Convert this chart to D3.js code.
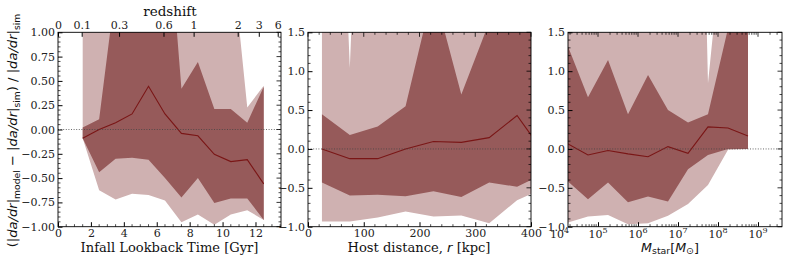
<!DOCTYPE html>
<html><head><meta charset="utf-8">
<script src="https://cdn.jsdelivr.net/npm/d3@7"></script>
<style>
body{margin:0;background:#fff;}
svg{display:block;}
.tick text{font-family:"DejaVu Serif",serif;}
</style></head>
<body><svg id="c" width="789" height="263"></svg>
<script>
// ---------- Data ----------
// Panel 1: infall lookback time [Gyr]
const lookbackX      = [1.5, 2.5, 3.5, 4.5, 5.5, 6.5, 7.5, 8.5, 9.5, 10.5, 11.5, 12.5];
const lookMedian     = [-0.09, 0.00, 0.07, 0.16, 0.445, 0.16, -0.04, -0.065, -0.255, -0.33, -0.31, -0.56];
const lookDarkHi     = [0.02, 0.105, 1.45, 1.6, 2.0, 2.55, 0.42, 0.695, 0.21, 0.21, 0.07, 0.44];
const lookDarkLo     = [-0.09, -0.44, -0.30, -0.29, -0.31, -0.50, -0.70, -0.50, -0.755, -0.71, -0.71, -0.93];
const lookLightHi    = [3.0, 3.0, 3.0, 3.0, 3.0, 3.0, 3.0, 3.0, 3.0, 1.9, 0.226, 0.45];
const lookLightLo    = [-0.09, -0.625, -0.72, -0.66, -0.675, -0.73, -0.955, -0.875, -0.98, -0.875, -0.83, -0.93];
// top axis: redshift labels and their lookback times [Gyr]
const redshiftLabels   = ["0", "0.1", "0.3", "0.6", "1", "2", "3", "6"];
const redshiftLookback = [0, 1.44, 3.71, 6.41, 8.24, 10.92, 12.2, 13.35];

// Panel 2: host distance r [kpc]
const distX          = [25, 75, 125, 175, 225, 275, 325, 375, 425];
const distMedian     = [0.0, -0.125, -0.125, 0.0, 0.095, 0.085, 0.145, 0.43, -0.07];
const distDarkHi     = [0.445, 0.18, 0.29, 0.55, 2.05, 0.70, 1.63, 2.5, 2.5];
const distDarkLo     = [-0.433, -0.60, -0.59, -0.61, -0.545, -0.617, -0.433, -0.485, -0.315];
const distLightHi    = [10, 1.04, 10, 3.0, 3.0, 3.0, 3.0, 3.0, 3.0];
const distLightLo    = [-0.934, -0.934, -0.883, -0.806, -0.87, -0.857, -0.955, -0.66, -0.50];

// Panel 3: stellar mass [Msun]
const massX          = [1.78e4, 5.62e4, 1.78e5, 5.62e5, 1.78e6, 5.62e6, 1.78e7, 5.62e7, 1.78e8, 5.62e8];
const massMedian     = [0.064, -0.077, -0.02, -0.064, -0.10, 0.03, -0.056, 0.283, 0.27, 0.167];
const massDarkHi     = [1.316, 0.664, 1.144, 0.446, 0.95, 0.50, 0.34, 0.446, 1.55, 2.5];
const massDarkLo     = [-0.42, -0.647, -0.43, -0.686, -0.613, -0.677, -0.26, -0.077, 0.0, 0.0];
const massLightHi    = [3.0, 3.0, 3.0, 3.0, 3.0, 3.0, 12, 0.845, 3.4, 3.0];
const massLightLo    = [-0.947, -0.87, -0.849, -0.969, -0.956, -0.86, -0.707, -0.463, -0.01, 0.0];

const yTicks1 = [-1.0, -0.75, -0.5, -0.25, 0.0, 0.25, 0.5, 0.75, 1.0];
const yTicks23 = [-1.0, -0.5, 0.0, 0.5, 1.0, 1.5];
const xTicks1 = [0, 2, 4, 6, 8, 10, 12];
const xTicks2 = [0, 100, 200, 300, 400];
const xTicks3 = [1e4, 1e5, 1e6, 1e7, 1e8, 1e9];

// ---------- Style ----------
const DARK = "#965a5a", LIGHT = "#cfb1b1", LINE = "#7a1616";
const TOP = 32.3, BOT = 226.7;
const svg = d3.select("#c");
const defs = svg.append("defs");

// scale a text's font size so that its width matches the target width
function fitWidth(sel, target) {
  const node = sel.node();
  const w = node.getBBox().width;
  if (!w) return;
  const k = target / w;
  sel.attr("font-size", (+sel.attr("font-size")) * k);
  sel.selectAll("tspan").each(function () {
    const t = d3.select(this);
    if (t.attr("font-size")) t.attr("font-size", (+t.attr("font-size")) * k);
    if (t.attr("dy")) t.attr("dy", (+t.attr("dy")) * k);
  });
}

function panel(id, x, y, X, med, dHi, dLo, lHi, lLo) {
  const [x0, x1] = x.range();
  defs.append("clipPath").attr("id", id).append("rect")
    .attr("x", x0).attr("y", TOP).attr("width", x1 - x0).attr("height", BOT - TOP);
  const g = svg.append("g").attr("clip-path", `url(#${id})`);
  const idx = d3.range(X.length);
  const area = (hi, lo) => d3.area().x(i => x(X[i])).y0(i => y(lo[i])).y1(i => y(hi[i]));
  g.append("path").datum(idx).attr("d", area(lHi, lLo)).attr("fill", LIGHT);
  g.append("path").datum(idx).attr("d", area(dHi, dLo)).attr("fill", DARK);
  g.append("path").datum(idx).attr("d", d3.line().x(i => x(X[i])).y(i => y(med[i])))
    .attr("fill", "none").attr("stroke", LINE).attr("stroke-width", 1.1);
  g.append("line").attr("x1", x0).attr("x2", x1).attr("y1", y(0)).attr("y2", y(0))
    .attr("stroke", "#444").attr("stroke-width", 0.8).attr("stroke-dasharray", "1,1.6");
}

function frame(x, y, xt, xMinor, yt, yMinor, yFmt, xFmt, topTicks) {
  const [x0, x1] = x.range();
  const g = svg.append("g");
  const bot = g.append("g").attr("transform", `translate(0,${BOT})`)
    .call(d3.axisBottom(x).tickValues(xt).tickFormat(xFmt).tickSizeInner(-4.5).tickSizeOuter(0).tickPadding(2.5));
  bot.selectAll("text").attr("font-size", 11).attr("fill", "#222");
  bot.append("g").selectAll("line").data(xMinor).join("line")
    .attr("x1", d => x(d)).attr("x2", d => x(d)).attr("y1", 0).attr("y2", -2.5).attr("stroke", "#000").attr("stroke-width", 0.7);
  if (!topTicks) {
    g.append("g").selectAll("line").data(xt.filter(d => x(d) >= x0 - 0.5 && x(d) <= x1 + 0.5)).join("line")
      .attr("x1", d => x(d)).attr("x2", d => x(d)).attr("y1", TOP).attr("y2", TOP + 4.5).attr("stroke", "#000").attr("stroke-width", 0.8);
    g.append("g").selectAll("line").data(xMinor).join("line")
      .attr("x1", d => x(d)).attr("x2", d => x(d)).attr("y1", TOP).attr("y2", TOP + 2.5).attr("stroke", "#000").attr("stroke-width", 0.7);
  }
  const left = g.append("g").attr("transform", `translate(${x0},0)`)
    .call(d3.axisLeft(y).tickValues(yt).tickFormat(yFmt).tickSizeInner(-4.5).tickSizeOuter(0).tickPadding(3));
  left.selectAll("text").attr("font-size", 11).attr("fill", "#222");
  left.append("g").selectAll("line").data(yMinor).join("line")
    .attr("x1", 0).attr("x2", 2.5).attr("y1", d => y(d)).attr("y2", d => y(d)).attr("stroke", "#000").attr("stroke-width", 0.7);
  g.append("g").selectAll("line").data(yt).join("line")
    .attr("x1", x1).attr("x2", x1 - 4.5).attr("y1", d => y(d)).attr("y2", d => y(d)).attr("stroke", "#000").attr("stroke-width", 0.8);
  g.append("g").selectAll("line").data(yMinor).join("line")
    .attr("x1", x1).attr("x2", x1 - 2.5).attr("y1", d => y(d)).attr("y2", d => y(d)).attr("stroke", "#000").attr("stroke-width", 0.7);
  g.selectAll(".domain").remove();
  g.append("rect").attr("x", x0).attr("y", TOP).attr("width", x1 - x0).attr("height", BOT - TOP)
    .attr("fill", "none").attr("stroke", "#000").attr("stroke-width", 0.9);
  return g;
}

// ---------- Panel 1 ----------
const x1s = d3.scaleLinear().domain([0, 13.55]).range([58, 281]);
const y1s = d3.scaleLinear().domain([-1, 1]).range([BOT, TOP]);
panel("cp1", x1s, y1s, lookbackX, lookMedian, lookDarkHi, lookDarkLo, lookLightHi, lookLightLo);
const minor1x = d3.range(0, 13.55, 0.5).filter(v => v % 2 !== 0);
const minor1y = d3.range(-1, 1.001, 0.05).map(v => +v.toFixed(2)).filter(v => Math.abs((v * 4) - Math.round(v * 4)) > 1e-6);
frame(x1s, y1s, xTicks1, minor1x, yTicks1, minor1y, d3.format(".2f"), d3.format("d"), true);
const topAx = svg.append("g").attr("transform", `translate(0,${TOP})`)
  .call(d3.axisTop(x1s).tickValues(redshiftLookback).tickFormat((d, i) => redshiftLabels[i]).tickSizeInner(-4.5).tickSizeOuter(0).tickPadding(3));
topAx.select(".domain").remove();
topAx.selectAll("text").attr("font-size", 11).attr("fill", "#222");
const rs = svg.append("text").attr("x", 170).attr("y", 16).attr("text-anchor", "middle")
  .attr("font-family", "DejaVu Serif").attr("font-size", 13.5).attr("fill", "#111").text("redshift");
fitWidth(rs, 54);
const xl1 = svg.append("text").attr("x", 169.5).attr("y", 251.5).attr("text-anchor", "middle")
  .attr("font-family", "DejaVu Serif").attr("font-size", 13.5).attr("fill", "#111").text("Infall Lookback Time [Gyr]");
fitWidth(xl1, 178);

// ---------- Panel 2 ----------
const x2s = d3.scaleLinear().domain([0, 400]).range([308, 531]);
const y2s = d3.scaleLinear().domain([-1, 1.5]).range([BOT, TOP]);
panel("cp2", x2s, y2s, distX, distMedian, distDarkHi, distDarkLo, distLightHi, distLightLo);
const minor2x = d3.range(20, 400, 20).filter(v => v % 100 !== 0);
const minor2y = d3.range(-0.9, 1.5, 0.1).map(v => +v.toFixed(1)).filter(v => Math.abs(v * 2 - Math.round(v * 2)) > 1e-6);
frame(x2s, y2s, xTicks2, minor2x, yTicks23, minor2y, d3.format(".1f"), d3.format("d"), false);
const t2 = svg.append("text").attr("x", 419).attr("y", 251.5).attr("text-anchor", "middle")
  .attr("font-family", "DejaVu Serif").attr("font-size", 13.5).attr("fill", "#111");
t2.append("tspan").text("Host distance, ");
t2.append("tspan").attr("font-style", "italic").attr("font-family", "DejaVu Sans").text("r");
t2.append("tspan").text(" [kpc]");
fitWidth(t2, 143);

// ---------- Panel 3 ----------
const x3s = d3.scaleLog().domain([Math.pow(10, 4.25), Math.pow(10, 9.6)]).range([568, 782]);
const y3s = d3.scaleLinear().domain([-1, 1.5]).range([BOT, TOP]);
panel("cp3", x3s, y3s, massX, massMedian, massDarkHi, massDarkLo, massLightHi, massLightLo);
const minor3x = [];
for (let e = 4; e <= 9; e++) for (let m = 2; m <= 9; m++) { const v = m * Math.pow(10, e); if (x3s(v) > 568 && x3s(v) < 782) minor3x.push(v); }
frame(x3s, y3s, xTicks3.filter(v => x3s(v) >= 567), minor3x, yTicks23, minor2y, d3.format(".1f"), () => "", false);
const lab3 = svg.append("g");
xTicks3.forEach(v => {
  const e = Math.round(Math.log10(v));
  const t = lab3.append("text").attr("x", x3s(v) + (e === 4 ? 1.5 : 0)).attr("y", 237.5).attr("text-anchor", "middle")
    .attr("font-family", "DejaVu Serif").attr("font-size", 11).attr("fill", "#222");
  t.append("tspan").text("10");
  t.append("tspan").attr("font-size", 8).attr("dy", -4.5).text(e);
});
const t3 = svg.append("text").attr("x", 670).attr("y", 251.5).attr("text-anchor", "middle")
  .attr("font-family", "DejaVu Sans").attr("font-size", 13.5).attr("fill", "#111");
t3.append("tspan").attr("font-style", "italic").text("M");
t3.append("tspan").attr("font-size", 10).attr("dy", 3).text("star");
t3.append("tspan").attr("dy", -3).text("[");
t3.append("tspan").attr("font-style", "italic").text("M");
t3.append("tspan").attr("font-size", 10).attr("dy", 3).text("⊙");
t3.append("tspan").attr("dy", -3).text("]");
fitWidth(t3, 58);

// ---------- Y label ----------
const yl = svg.append("text").attr("transform", "translate(17,130.5) rotate(-90)").attr("text-anchor", "middle")
  .attr("font-family", "DejaVu Sans").attr("font-size", 13.5).attr("fill", "#111");
const parts = [["(|", 0], ["da/dr", 1], ["|", 0], ["model", 2], [" − |", 3], ["da/dr", 1], ["|", 0], ["sim", 2], [") / |", 3], ["da/dr", 1], ["|", 0], ["sim", 2]];
let sub = false;
parts.forEach(([s, k]) => {
  const ts = yl.append("tspan").text(s);
  if (k === 1) ts.attr("font-style", "italic");
  if (k === 2) { ts.attr("font-size", 9.5).attr("dy", 3); sub = true; }
  else if (sub) { ts.attr("dy", -3); sub = false; }
});
fitWidth(yl, 234);
</script></body></html>
